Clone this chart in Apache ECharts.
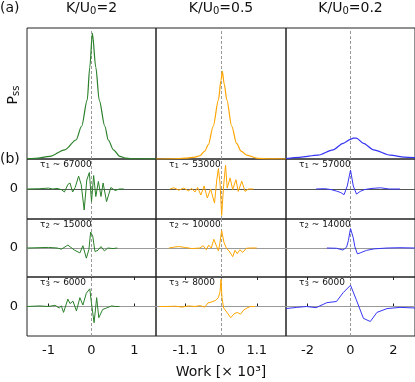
<!DOCTYPE html>
<html>
<head>
<meta charset="utf-8">
<script src="https://cdn.jsdelivr.net/npm/echarts@6/dist/echarts.min.js"></script>
<style>
  html, body { margin: 0; padding: 0; background: #fff; }
  #main { width: 415px; height: 382px; }
</style>
</head>
<body>
<div id="main"></div>
<script>
// K/U0 of each column
var couplings = ['2', '0.5', '0.2'];

// relaxation times shown in rows (b)
var tauK2 = ['67000', '15000', '6000'];
var tauK05 = ['53000', '10000', '8000'];
var tauK02 = ['57000', '14000', '6000'];

// tick labels of the work axis (x 10^3)
var xTicksK2 = [-1, 0, 1];
var xTicksK05 = [-1.1, 0, 1.1];
var xTicksK02 = [-2, 0, 2];

// (a) steady state distributions, [work, Pss]
var pssK2 = [[-1.5, 0.002], [-1.3, 0.005], [-0.97, 0.02], [-0.62, 0.07], [-0.36, 0.145], [-0.23, 0.25],
  [-0.1, 0.45], [-0.04, 0.7], [0.02, 0.96], [0.1, 0.7], [0.18, 0.45], [0.31, 0.25], [0.39, 0.145],
  [0.51, 0.07], [0.66, 0.02], [0.8, 0.006], [1.0, 0.001], [1.5, 0]];
var pssK05 = [[-2, 0], [-1.5, 0.002], [-1.1, 0.006], [-0.8, 0.015], [-0.65, 0.025], [-0.5, 0.06],
  [-0.39, 0.11], [-0.24, 0.25], [-0.08, 0.45], [0.0, 0.6], [0.04, 0.67], [0.1, 0.57], [0.18, 0.45],
  [0.33, 0.25], [0.48, 0.12], [0.62, 0.06], [0.79, 0.03], [1.14, 0.005], [1.5, 0.001], [2, 0]];
var pssK02 = [[-3, 0.004], [-2.37, 0.013], [-1.51, 0.03], [-0.81, 0.07], [-0.34, 0.12], [0.0, 0.15],
  [0.12, 0.16], [0.27, 0.16], [0.6, 0.12], [1.07, 0.07], [1.85, 0.03], [2.5, 0.015], [3, 0.01]];

// (b) eigenfunctions, [work, amplitude]
var eig1K2 = [[-1.5, 0], [-1.2, 0.01], [-1.0, 0.03], [-0.9, 0.0], [-0.8, 0.02], [-0.7, -0.02], [-0.63, -0.1],
  [-0.55, 0.15], [-0.5, 0.2], [-0.44, -0.1], [-0.38, 0.05], [-0.3, 0.43], [-0.24, 0.15], [-0.17, -0.7],
  [-0.11, 0.3], [-0.05, 0.55], [0.0, -0.42], [0.05, 0.45], [0.1, -0.25], [0.16, 0.25], [0.22, -0.25],
  [0.27, 0.2], [0.35, -0.42], [0.45, 0.05], [0.55, -0.05], [0.65, 0.0], [0.75, 0.0]];
var eig2K2 = [[-1.5, 0], [-1.0, 0.02], [-0.8, 0.0], [-0.7, -0.04], [-0.55, 0.1], [-0.4, -0.07], [-0.27, -0.17],
  [-0.2, 0.08], [-0.12, -0.35], [-0.06, -0.05], [-0.02, 0.55], [0.03, 0.4], [0.08, -0.12], [0.15, -0.08],
  [0.22, 0.05], [0.3, -0.1], [0.38, 0.0], [0.5, -0.02], [0.6, 0.0]];
var eig3K2 = [[-1.5, 0], [-1.2, 0.02], [-1.0, 0.0], [-0.85, 0.04], [-0.75, -0.05], [-0.7, 0.02], [-0.65, -0.2],
  [-0.55, 0.25], [-0.5, 0.1], [-0.43, 0.18], [-0.35, -0.15], [-0.27, 0.3], [-0.2, 0.05], [-0.12, 0.45],
  [-0.04, 0.6], [0.0, 0.1], [0.06, -0.55], [0.12, 0.3], [0.17, -0.38], [0.26, -0.1], [0.35, -0.05],
  [0.47, 0.02], [0.55, 0.0], [0.65, 0.0]];

var eig1K05 = [[-1.57, 0], [-1.45, 0.04], [-1.3, -0.04], [-1.15, 0.03], [-1.0, -0.06], [-0.9, 0.02],
  [-0.8, -0.1], [-0.72, 0.05], [-0.62, -0.2], [-0.52, 0.1], [-0.42, -0.3], [-0.32, 0.0], [-0.2, -0.47],
  [-0.13, 0.3], [-0.08, 0.68], [-0.03, 0.2], [0.02, -0.88], [0.08, 0.1], [0.14, 0.8], [0.19, 0.03],
  [0.28, 0.37], [0.36, -0.02], [0.46, 0.31], [0.53, -0.08], [0.64, 0.26], [0.74, -0.08], [0.84, 0.0],
  [1.0, 0.0]];
var eig2K05 = [[-1.6, 0], [-1.45, 0.03], [-1.3, 0.05], [-1.1, 0.02], [-0.9, -0.02], [-0.65, 0.0], [-0.55, 0.08],
  [-0.45, -0.06], [-0.38, 0.1], [-0.3, 0.0], [-0.22, 0.3], [-0.15, 0.1], [-0.08, -0.1], [-0.03, 0.2],
  [0.02, 0.6], [0.09, 0.2], [0.17, -0.02], [0.25, -0.1], [0.36, -0.3], [0.43, -0.08], [0.5, -0.2],
  [0.58, -0.06], [0.67, -0.15], [0.78, -0.01], [0.9, 0], [1.1, 0]];
var eig3K05 = [[-1.9, 0], [-1.7, 0.0], [-1.4, 0.01], [-1.2, -0.02], [-1.0, 0.02], [-0.8, 0.0], [-0.65, 0.03],
  [-0.5, -0.02], [-0.4, 0.12], [-0.3, 0.15], [-0.18, 0.2], [-0.08, 0.3], [-0.03, 0.5], [0.0, 0.92],
  [0.03, 0.3], [0.08, -0.05], [0.15, -0.15], [0.3, -0.38], [0.4, -0.25], [0.5, -0.2], [0.6, -0.26],
  [0.7, -0.12], [0.8, -0.05], [0.9, 0.0], [1.05, 0.0]];

var eig1K02 = [[-1.6, 0], [-1.2, 0.01], [-0.9, -0.02], [-0.65, -0.07], [-0.45, -0.12], [-0.3, -0.19],
  [-0.15, 0.1], [0.0, 0.63], [0.13, 0.1], [0.28, -0.17], [0.45, -0.08], [0.65, -0.02], [1.0, 0.02],
  [1.4, 0.04], [1.8, 0.0], [2.3, 0.0]];
var eig2K02 = [[-1.1, 0], [-0.65, -0.01], [-0.35, -0.07], [-0.18, 0.03], [-0.1, 0.25], [0.0, 0.67],
  [0.13, 0.35], [0.2, 0.05], [0.32, -0.2], [0.45, -0.17], [0.75, -0.08], [1.1, -0.03], [1.7, 0.0],
  [2.3, 0.01], [3.0, 0.0]];
var eig3K02 = [[-3.0, -0.07], [-2.5, -0.03], [-2.05, 0.0], [-1.6, -0.04], [-1.1, 0.13], [-0.65, 0.17],
  [-0.34, 0.47], [0.0, 0.72], [0.29, 0.19], [0.6, -0.4], [0.92, -0.51], [1.23, -0.2], [1.7, -0.07],
  [2.3, -0.03], [3.0, -0.05]];

var curves = [
  [pssK2, eig1K2, eig2K2, eig3K2],
  [pssK05, eig1K05, eig2K05, eig3K05],
  [pssK02, eig1K02, eig2K02, eig3K02]
];
var taus = [tauK2, tauK05, tauK02];
var xTicks = [xTicksK2, xTicksK05, xTicksK02];
var xMin = [-1.5, -2, -3];
var xMax = [1.5, 2, 3];

// layout
var colLeft = [27, 156, 286];
var colWidth = [129, 130, 129];
var rowTop = [28, 159, 219, 277];
var rowHeight = [131, 60, 58, 59];
var colors = ['#2a802a', '#ffa500', '#3535f5'];
var font = 'DejaVu Sans';

var chart = echarts.init(document.getElementById('main'));
var grids = [], xAxes = [], yAxes = [], series = [], graphics = [];

for (var r = 0; r < 4; r++) {
  for (var c = 0; c < 3; c++) {
    var idx = grids.length;
    var isBottom = r === 3;
    grids.push({
      left: colLeft[c], top: rowTop[r], width: colWidth[c], height: rowHeight[r],
      show: true, borderColor: '#222', borderWidth: 1, backgroundColor: 'transparent'
    });
    xAxes.push({
      type: 'value', gridIndex: idx, position: 'bottom', min: xMin[c], max: xMax[c],
      axisLine: { show: false }, splitLine: { show: false },
      axisTick: { show: isBottom, inside: true, length: 3, customValues: xTicks[c], lineStyle: { color: '#222' } },
      axisLabel: { show: isBottom, customValues: xTicks[c], margin: 8, fontSize: 13, color: '#111', fontFamily: font }
    });
    yAxes.push({
      type: 'value', gridIndex: idx, min: r === 0 ? 0 : -1, max: 1, interval: 1,
      axisLine: { show: false }, splitLine: { show: false }, axisTick: { show: false },
      axisLabel: {
        show: r > 0 && c === 0, margin: 9, fontSize: 13, color: '#111', fontFamily: font,
        formatter: function (v) { return v === 0 ? '0' : ''; }
      }
    });
    // 零线和 x=0 虚线
    var marks = [{ xAxis: 0, lineStyle: { type: [3, 2], color: '#999', width: 1 } }];
    if (r > 0) {
      marks.push({ yAxis: 0, lineStyle: { type: 'solid', color: r === 1 ? '#555' : '#999', width: 1 } });
    }
    series.push({
      type: 'line', xAxisIndex: idx, yAxisIndex: idx, data: curves[c][r],
      symbol: 'none', silent: true, z: 3,
      smooth: r === 0 ? 0.3 : false, smoothMonotone: 'x',
      lineStyle: { color: colors[c], width: r === 0 ? 1.2 : 1 },
      markLine: { silent: true, symbol: ['none', 'none'], label: { show: false }, data: marks, z: 2 }
    });
    if (r > 0) {
      graphics.push({
        type: 'text', x: colLeft[c] + 13, y: rowTop[r] + 5.5, z: 10,
        style: {
          text: '{a|τ}{b|' + r + '}{a| ~ ' + taus[c][r - 1] + '}',
          verticalAlign: 'middle', align: 'left',
          rich: {
            a: { fontSize: 9, fontFamily: font, fill: '#111', lineHeight: 10 },
            b: { fontSize: 7, fontFamily: font, fill: '#111', lineHeight: 7, verticalAlign: 'bottom' }
          }
        }
      });
    }
  }
}

// 底行上沿的刻度
for (var c2 = 0; c2 < 3; c2++) {
  xAxes.push({
    type: 'value', gridIndex: 9 + c2, position: 'top', min: xMin[c2], max: xMax[c2],
    axisLine: { show: false }, splitLine: { show: false }, axisLabel: { show: false },
    axisTick: { show: true, inside: true, length: 3, customValues: xTicks[c2], lineStyle: { color: '#222' } }
  });
}

var titleCenters = [91.5, 221, 350.5];
for (var k = 0; k < 3; k++) {
  graphics.push({
    type: 'text', x: titleCenters[k], y: 8,
    style: {
      text: '{a|K/U}{b|0}{a|=' + couplings[k] + '}', align: 'center', verticalAlign: 'middle',
      rich: {
        a: { fontSize: 14, fontFamily: font, fill: '#111', lineHeight: 16 },
        b: { fontSize: 10, fontFamily: font, fill: '#111', lineHeight: 10, verticalAlign: 'bottom' }
      }
    }
  });
}

graphics.push(
  { type: 'text', x: 0, y: 8, style: { text: '(a)', font: '14px ' + font, fill: '#111', verticalAlign: 'middle' } },
  { type: 'text', x: 0, y: 159, style: { text: '(b)', font: '14px ' + font, fill: '#111', verticalAlign: 'middle' } },
  {
    type: 'text', x: 13, y: 95, rotation: Math.PI / 2,
    style: {
      text: '{a|P}{b|ss}', align: 'center', verticalAlign: 'middle',
      rich: {
        a: { fontSize: 14, fontFamily: font, fill: '#111', lineHeight: 16 },
        b: { fontSize: 10, fontFamily: font, fill: '#111', lineHeight: 10, verticalAlign: 'bottom' }
      }
    }
  },
  {
    type: 'text', x: 221, y: 372,
    style: { text: 'Work [× 10³]', font: '14px ' + font, fill: '#111', align: 'center', verticalAlign: 'middle' }
  }
);

chart.setOption({
  animation: false,
  grid: grids,
  xAxis: xAxes,
  yAxis: yAxes,
  series: series,
  graphic: graphics
});
</script>
</body>
</html>
